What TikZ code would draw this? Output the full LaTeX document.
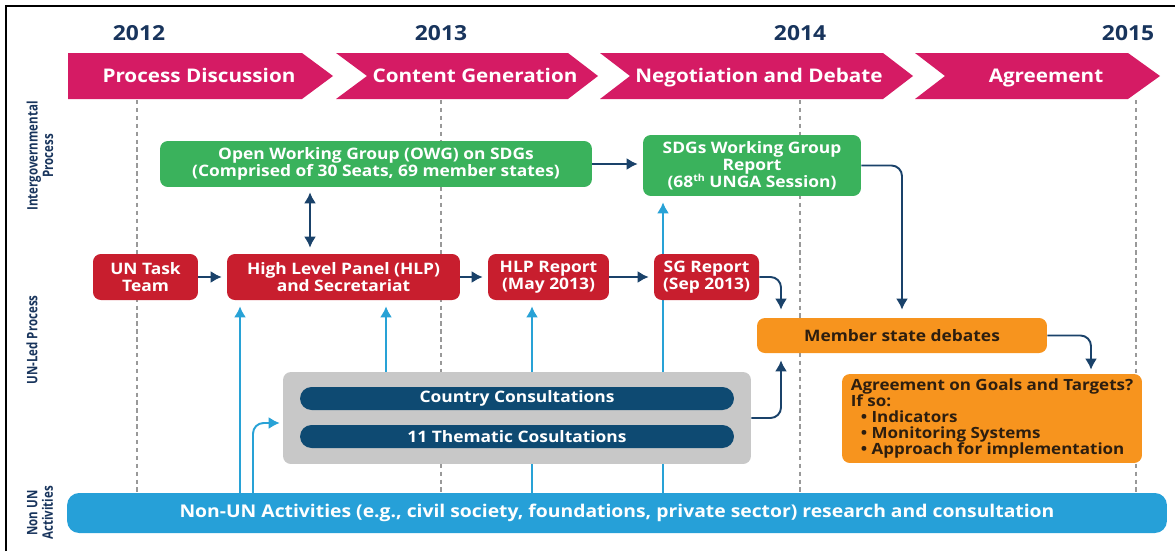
\documentclass[tikz,border=0pt]{standalone}
\usepackage{fontspec}
\setmainfont{Open Sans}[FakeStretch=1.1]
\newfontfamily\condfont{Open Sans}[FakeStretch=0.8]
\usetikzlibrary{arrows.meta,positioning,backgrounds}

\definecolor{phasepink}{RGB}{213,27,100}
\definecolor{yearnavy}{RGB}{24,52,92}
\definecolor{owggreen}{RGB}{58,178,92}
\definecolor{unred}{RGB}{200,30,46}
\definecolor{debateorange}{RGB}{247,148,30}
\definecolor{consultnavy}{RGB}{14,74,114}
\definecolor{consultgray}{RGB}{200,200,200}
\definecolor{nonunblue}{RGB}{38,160,216}
\definecolor{arrownavy}{RGB}{26,66,106}
\definecolor{arrowblue}{RGB}{40,162,214}
\definecolor{darktext}{RGB}{45,30,15}

\begin{document}
\begin{tikzpicture}[x=0.02cm, y=-0.02cm,
    box/.style={rectangle, rounded corners=4.5pt, inner sep=0pt, align=center,
                text=white, font=\bfseries\fontsize{9}{9.6}\selectfont},
    greenbox/.style={box, fill=owggreen},
    redbox/.style={box, fill=unred, minimum height=0.92cm},
    orangebox/.style={box, fill=debateorange, text=darktext},
    pill/.style={box, fill=consultnavy, rounded corners=0.23cm,
                 minimum width=8.68cm, minimum height=0.46cm},
    phase/.style={text=white, text height=0.72em, text depth=0.22em,
                  font=\bfseries\fontsize{10.7}{12}\selectfont},
    year/.style={text=yearnavy, font=\bfseries\fontsize{11.8}{13}\selectfont},
    lane/.style={rotate=90, align=center, text=yearnavy,
                 font=\condfont\bfseries\fontsize{8.2}{8.8}\selectfont},
    yearline/.style={draw=black!40, line width=0.7pt, dash pattern=on 2.5pt off 2pt},
    navyarrow/.style={draw=arrownavy, line width=1.1pt,
                      -{Latex[length=0.22cm,width=0.24cm]}},
    bluearrow/.style={draw=arrowblue, line width=1.1pt,
                      -{Latex[length=0.22cm,width=0.24cm]}}]
    \useasboundingbox (0,0) rectangle (1175,551);
    \draw[line width=1.2pt] (6,551) -- (6,6) -- (1175,6);

    % Years and phases
    \node[year] (y12) at (139,33) {2012};
    \node[year] (y13) at (441,33) {2013};
    \node[year] (y14) at (800,33) {2014};
    \node[year] (y15) at (1128,33) {2015};
    \fill[phasepink] (68,53) -- (302,53) -- (333,76) -- (302,99) -- (68,99) -- cycle;
    \fill[phasepink] (336,53) -- (568,53) -- (598,76) -- (568,99) -- (336,99) -- (367,76) -- cycle;
    \fill[phasepink] (600,53) -- (883,53) -- (913,76) -- (883,99) -- (600,99) -- (630,76) -- cycle;
    \fill[phasepink] (915,53) -- (1128,53) -- (1160,76) -- (1128,99) -- (915,99) -- (945,76) -- cycle;
    \node[phase] (discuss) at (199,78.5) {Process Discussion};
    \node[phase] (content) at (475,78.5) {Content Generation};
    \node[phase] (negot) at (759,78.5) {Negotiation and Debate};
    \node[phase] (agreem) at (1046,78.5) {Agreement};

    % Lanes
    \node[lane] (laneig) at (40,156) {Intergovernmental\\Process};
    \node[lane] (laneun) at (32,340) {UN-Led Process};
    \node[lane] (lanenon) at (40,513) {Non UN\\Activities};

    % Intergovernmental process
    \node[greenbox, minimum width=8.64cm, minimum height=0.92cm] (owg) at (376,164)
        {Open Working Group (OWG) on SDGs\\(Comprised of 30 Seats, 69 member states)};
    \node[greenbox, minimum width=4.36cm, minimum height=1.22cm] (sdgwg) at (752,165.5)
        {SDGs Working Group\\Report\\(68\raisebox{0.35em}{\fontsize{5.5}{6}\selectfont th} UNGA Session)};

    % UN-led process
    \node[redbox, minimum width=2.1cm] (untask) at (145.5,277) {UN Task\\Team};
    \node[redbox, minimum width=4.66cm] (hlp) at (343.5,277) {High Level Panel (HLP)\\and Secretariat};
    \node[redbox, minimum width=2.42cm] (hlprep) at (548.5,277) {HLP Report\\(May 2013)};
    \node[redbox, minimum width=2.1cm] (sgrep) at (706.5,277) {SG Report\\(Sep 2013)};
    \node[orangebox, minimum width=5.8cm, minimum height=0.7cm] (member) at (902,335.5)
        {Member state debates};
    \node[orangebox, minimum width=6cm, minimum height=1.78cm, align=left,
          font=\bfseries\fontsize{8.8}{9}\selectfont] (agree) at (992,418.5)
        {Agreement on Goals and Targets?\\If so:\\
         \hspace*{0.2cm}\textbullet\ Indicators\\
         \hspace*{0.2cm}\textbullet\ Monitoring Systems\\
         \hspace*{0.2cm}\textbullet\ Approach for implementation};
    \node[box, fill=consultgray, minimum width=9.36cm, minimum height=1.84cm] (gray) at (517,418) {};
    \node[pill] (country) at (517,398.5) {Country Consultations};
    \node[pill] (thematic) at (517,436.5) {11 Thematic Cosultations};

    % Non UN activities
    \node[box, fill=nonunblue, rounded corners=0.24cm, minimum width=22cm, minimum height=0.8cm,
          font=\bfseries\fontsize{10}{12}\selectfont] (nonun) at (617,513)
        {Non-UN Activities (e.g., civil society, foundations, private sector) research and consultation};

    \coordinate (b1) at (240,493);
    \coordinate (b2) at (253,493);
    \coordinate (b3) at (532,493);
    \coordinate (b4) at (663,493);
    \coordinate (g1) at (386,0);
    \coordinate (dbl) at (310,0);
    \coordinate (sgdrop) at (781,0);
    \coordinate (agdrop) at (1091,0);

    % Lines behind the boxes
    \begin{pgfonlayer}{background}
    \foreach \yx in {137,441,800,1136}
        \draw[yearline] (\yx,100) -- (\yx,493);
    \draw[bluearrow, shorten >=0.12cm] (b3) -- (b3 |- hlprep.south);
    \draw[bluearrow, shorten >=0.12cm] (b4) -- (b4 |- sdgwg.south);
    \end{pgfonlayer}

    % Connect the boxes
    \draw[navyarrow, shorten >=0.1cm] (untask.east) -- (hlp.west);
    \draw[navyarrow, shorten >=0.1cm] (hlp.east) -- (hlprep.west);
    \draw[navyarrow, shorten >=0.1cm] (hlprep.east) -- (sgrep.west);
    \draw[navyarrow, shorten >=0.1cm] (owg.east) -- (owg.east -| sdgwg.west);
    \draw[navyarrow, {Latex[length=0.22cm,width=0.24cm]}-{Latex[length=0.22cm,width=0.24cm]},
          shorten <=0.1cm, shorten >=0.12cm] (dbl |- owg.south) -- (dbl |- hlp.north);
    \draw[navyarrow, rounded corners=6pt, shorten >=0.16cm] (sgrep.east) -| (sgdrop |- member.north);
    \draw[navyarrow, rounded corners=6pt, shorten >=0.16cm] (sdgwg.east) -| (member.north);
    \draw[navyarrow, rounded corners=6pt, shorten >=0.14cm] (gray.east) -| (sgdrop |- member.south);
    \draw[navyarrow, rounded corners=6pt, shorten >=0.08cm] (member.east) -| (agdrop |- agree.north);
    \draw[bluearrow, shorten >=0.12cm] (b1) -- (b1 |- hlp.south);
    \draw[bluearrow, rounded corners=6pt, shorten >=0.06cm] (b2) |- ([yshift=-0.1cm]gray.west);
    \draw[bluearrow, shorten >=0.12cm] (g1 |- gray.north) -- (g1 |- hlp.south);
\end{tikzpicture}
\end{document}
